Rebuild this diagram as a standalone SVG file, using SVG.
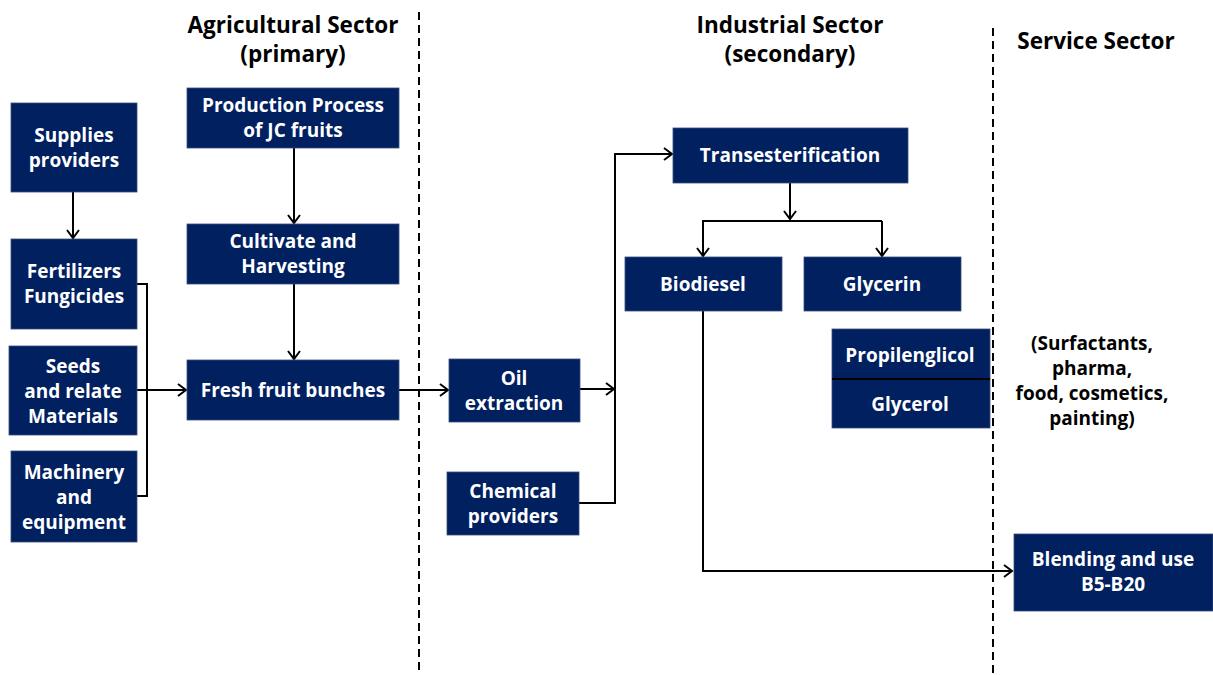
<svg xmlns="http://www.w3.org/2000/svg" width="1213" height="675" viewBox="0 0 1213 675">
<style>
.box{fill:#002060;stroke:#3b4d7e;stroke-width:0.8}
.bt{font-family:"Open Sans","Noto Sans","DejaVu Sans",sans-serif;font-weight:bold;font-size:19px;fill:#ffffff;text-anchor:middle}
.hd{font-family:"Open Sans","Noto Sans","DejaVu Sans",sans-serif;font-weight:bold;font-size:22.5px;fill:#000000;text-anchor:middle}
.st{font-family:"Open Sans","Noto Sans","DejaVu Sans",sans-serif;font-weight:bold;font-size:19px;fill:#000000;text-anchor:middle}
.ln{fill:none;stroke:#000;stroke-width:2}
.ar{fill:none;stroke:#000;stroke-width:2;marker-end:url(#arr)}
.dash{fill:none;stroke:#000;stroke-width:2;stroke-dasharray:8,5}
</style>
<defs>
<marker id="arr" markerUnits="userSpaceOnUse" markerWidth="12" markerHeight="14" refX="10" refY="6" orient="auto" overflow="visible">
<path d="M2,0 L10,6 L2,12" fill="none" stroke="#000" stroke-width="2"/>
</marker>
</defs>
<rect width="1213" height="675" fill="#ffffff"/>
<g id="dividers">
<line class="dash" x1="419" y1="12" x2="419" y2="675"/>
<line class="dash" x1="993" y1="28" x2="993" y2="675"/>
</g>
<g id="headings">
<text class="hd" x="293" y="33">Agricultural Sector</text>
<text class="hd" x="293" y="62">(primary)</text>
<text class="hd" x="790" y="33">Industrial Sector</text>
<text class="hd" x="790" y="62">(secondary)</text>
<text class="hd" x="1096" y="49">Service Sector</text>
</g>
<g id="connectors">
<path class="ar" d="M73,192 V238"/>
<path class="ln" d="M137,284 H147 V496 H137"/>
<path class="ar" d="M137,390 H186"/>
<path class="ar" d="M294,148 V223"/>
<path class="ar" d="M294,284 V359"/>
<path class="ar" d="M399,390 H448"/>
<path class="ar" d="M580,389 H614"/>
<path class="ar" d="M579,503 H615 V154 H672"/>
<path class="ar" d="M790,183 V219"/>
<path class="ln" d="M702,221 H882"/>
<path class="ar" d="M703,221 V256"/>
<path class="ar" d="M882,221 V256"/>
<path class="ar" d="M703,311 V571 H1012"/>
</g>
<g id="supplies"><rect class="box" x="11" y="103" width="126" height="89"/><text class="bt" x="74" y="142">Supplies</text><text class="bt" x="74" y="167">providers</text></g>
<g id="fertilizers"><rect class="box" x="11" y="239" width="126" height="90"/><text class="bt" x="74" y="278">Fertilizers</text><text class="bt" x="74" y="303">Fungicides</text></g>
<g id="seeds"><rect class="box" x="9" y="346" width="128" height="89"/><text class="bt" x="73" y="373">Seeds</text><text class="bt" x="73" y="398">and relate</text><text class="bt" x="73" y="423">Materials</text></g>
<g id="machinery"><rect class="box" x="11" y="451" width="126" height="91"/><text class="bt" x="74" y="479">Machinery</text><text class="bt" x="74" y="504">and</text><text class="bt" x="74" y="529">equipment</text></g>
<g id="production"><rect class="box" x="187" y="88" width="212" height="60"/><text class="bt" x="293" y="112">Production Process</text><text class="bt" x="293" y="137">of JC fruits</text></g>
<g id="cultivate"><rect class="box" x="187" y="224" width="212" height="60"/><text class="bt" x="293" y="248">Cultivate and</text><text class="bt" x="293" y="273">Harvesting</text></g>
<g id="fresh"><rect class="box" x="187" y="360" width="212" height="60"/><text class="bt" x="293" y="397">Fresh fruit bunches</text></g>
<g id="oil"><rect class="box" x="449" y="359" width="131" height="63"/><text class="bt" x="514" y="385">Oil</text><text class="bt" x="514" y="410">extraction</text></g>
<g id="chemical"><rect class="box" x="447" y="472" width="132" height="63"/><text class="bt" x="513" y="498">Chemical</text><text class="bt" x="513" y="523">providers</text></g>
<g id="trans"><rect class="box" x="673" y="128" width="235" height="55"/><text class="bt" x="790" y="162">Transesterification</text></g>
<g id="biodiesel"><rect class="box" x="625" y="257" width="157" height="54"/><text class="bt" x="703" y="291">Biodiesel</text></g>
<g id="glycerin"><rect class="box" x="804" y="257" width="157" height="54"/><text class="bt" x="882" y="291">Glycerin</text></g>
<g id="propglyc"><rect class="box" x="832" y="329" width="158" height="99"/><line x1="832" y1="379" x2="990" y2="379" stroke="#000" stroke-width="2"/><text class="bt" x="910" y="362">Propilenglicol</text><text class="bt" x="910" y="411">Glycerol</text></g>
<g id="uses"><text class="st" x="1092" y="350">(Surfactants,</text><text class="st" x="1092" y="375">pharma,</text><text class="st" x="1092" y="400">food, cosmetics,</text><text class="st" x="1092" y="425">painting)</text></g>
<g id="blending"><rect class="box" x="1014" y="534" width="199" height="77"/><text class="bt" x="1113" y="566">Blending and use</text><text class="bt" x="1113" y="591">B5-B20</text></g>
</svg>
